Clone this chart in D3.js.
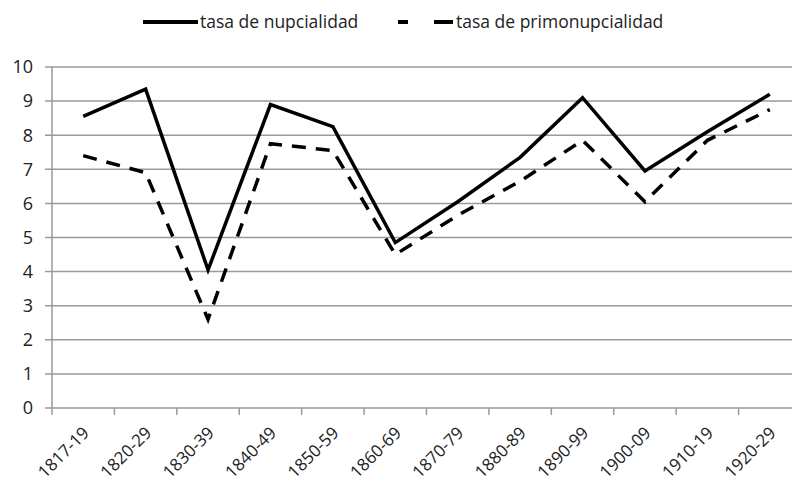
<!DOCTYPE html>
<html>
<head>
<meta charset="utf-8">
<script src="https://cdn.jsdelivr.net/npm/d3@7"></script>
<style>
  body { margin: 0; background: #fff; }
  text { font-family: "Open Sans", "Liberation Sans", sans-serif; fill: #222; }
</style>
</head>
<body>
<div id="chart"></div>
<script>
var periods = ["1817-19", "1820-29", "1830-39", "1840-49", "1850-59", "1860-69",
               "1870-79", "1880-89", "1890-99", "1900-09", "1910-19", "1920-29"];
var nupcialidad = [8.55, 9.35, 4.05, 8.9, 8.25, 4.85, 6.05, 7.35, 9.1, 6.95, 8.1, 9.2];
var primonupcialidad = [7.4, 6.9, 2.6, 7.75, 7.55, 4.5, 5.65, 6.65, 7.85, 6.05, 7.85, 8.75];
var yTicks = [0, 1, 2, 3, 4, 5, 6, 7, 8, 9, 10];

var width = 792, height = 482;
var margin = {top: 67, left: 52, bottom: 74};
var plotRight = 801;

var svg = d3.select("#chart")
    .append("svg")
    .attr("width", width)
    .attr("height", height);

var x = d3.scaleBand()
    .domain(periods)
    .range([margin.left, plotRight]);

var y = d3.scaleLinear()
    .domain([0, 10])
    .range([height - margin.bottom, margin.top]);

// gridlines
svg.append("g")
    .selectAll("line")
    .data(yTicks)
    .enter()
    .append("line")
    .attr("x1", margin.left - 7)
    .attr("x2", plotRight)
    .attr("y1", function(d){ return y(d); })
    .attr("y2", function(d){ return y(d); })
    .attr("stroke", "#9a9a9a")
    .attr("stroke-width", 1.5);

// y axis line
svg.append("line")
    .attr("x1", margin.left).attr("x2", margin.left)
    .attr("y1", y(10)).attr("y2", y(0) + 1)
    .attr("stroke", "#9a9a9a")
    .attr("stroke-width", 1.5);

// y labels
svg.append("g")
    .selectAll("text")
    .data(yTicks)
    .enter()
    .append("text")
    .attr("x", 33)
    .attr("y", function(d){ return y(d); })
    .attr("dy", "0.35em")
    .attr("text-anchor", "end")
    .attr("font-size", 18)
    .text(function(d){ return d; });

// x ticks at category boundaries
var boundaries = periods.map(function(p){ return x(p); });
svg.append("g")
    .selectAll("line")
    .data(boundaries)
    .enter()
    .append("line")
    .attr("x1", function(d){ return d; })
    .attr("x2", function(d){ return d; })
    .attr("y1", y(0))
    .attr("y2", y(0) + 7)
    .attr("stroke", "#9a9a9a")
    .attr("stroke-width", 1.5);

// x labels
svg.append("g")
    .selectAll("text")
    .data(periods)
    .enter()
    .append("text")
    .attr("transform", function(d){
        return "translate(" + (x(d) + x.bandwidth() / 2 + 7) + "," + (y(0) + 26) + ") rotate(-45)";
    })
    .attr("text-anchor", "end")
    .attr("font-size", 17)
    .text(function(d){ return d; });

var line = d3.line()
    .x(function(d, i){ return x(periods[i]) + x.bandwidth() / 2; })
    .y(function(d){ return y(d); });

svg.append("path")
    .datum(nupcialidad)
    .attr("d", line)
    .attr("fill", "none")
    .attr("stroke", "#000")
    .attr("stroke-width", 3.5)
    .attr("stroke-linejoin", "miter");

svg.append("path")
    .datum(primonupcialidad)
    .attr("d", line)
    .attr("fill", "none")
    .attr("stroke", "#000")
    .attr("stroke-width", 3.5)
    .attr("stroke-dasharray", "14,10");

// legend
var legend = svg.append("g");
legend.append("line")
    .attr("x1", 143).attr("x2", 198)
    .attr("y1", 22).attr("y2", 22)
    .attr("stroke", "#000")
    .attr("stroke-width", 4);
legend.append("text")
    .attr("x", 200).attr("y", 22)
    .attr("dy", "0.35em")
    .attr("font-size", 17.5)
    .text("tasa de nupcialidad");
legend.append("line")
    .attr("x1", 398).attr("x2", 408)
    .attr("y1", 22).attr("y2", 22)
    .attr("stroke", "#000")
    .attr("stroke-width", 4);
legend.append("line")
    .attr("x1", 434).attr("x2", 453)
    .attr("y1", 22).attr("y2", 22)
    .attr("stroke", "#000")
    .attr("stroke-width", 4);
legend.append("text")
    .attr("x", 456).attr("y", 22)
    .attr("dy", "0.35em")
    .attr("font-size", 17.5)
    .text("tasa de primonupcialidad");
</script>
</body>
</html>
